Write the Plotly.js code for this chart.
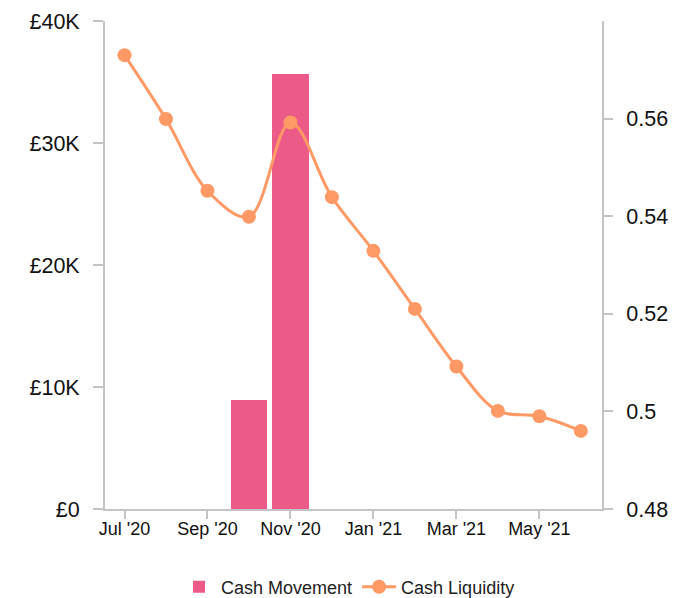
<!DOCTYPE html>
<html>
<head>
<meta charset="utf-8">
<script src="https://cdn.plot.ly/plotly-3.0.1.min.js"></script>
<style>html,body{margin:0;padding:0;background:#fff;}#chart{width:687px;height:598px;}</style>
</head>
<body>
<div id="chart"></div>
<script>
const months = ["Jul '20","Aug '20","Sep '20","Oct '20","Nov '20","Dec '20","Jan '21","Feb '21","Mar '21","Apr '21","May '21","Jun '21"];
const tickMonths = ["Jul '20","Sep '20","Nov '20","Jan '21","Mar '21","May '21"];
const cashMovement = [0, 0, 0, 8930, 35680, 0, 0, 0, 0, 0, 0, 0];
const cashLiquidity = [0.5730, 0.5599, 0.5452, 0.5399, 0.5592, 0.5439, 0.5329, 0.5210, 0.5092, 0.5001, 0.4990, 0.4960];
const leftTicks = [0, 10000, 20000, 30000, 40000];
const leftTickText = ["£0","£10K","£20K","£30K","£40K"];
const rightTicks = [0.48, 0.5, 0.52, 0.54, 0.56];
const rightTickText = ["0.48","0.5","0.52","0.54","0.56"];

const axisCol = '#c4c4c4';
const fontFam = 'Liberation Sans, Arial, Helvetica, sans-serif';

const traces = [
  {
    type: 'bar', name: 'Cash Movement',
    x: months, y: cashMovement,
    xaxis: 'x', yaxis: 'y',
    width: 0.885,
    marker: {color: '#ec5b88'}
  },
  {
    type: 'scatter', mode: 'lines+markers', name: 'Cash Liquidity',
    x: months, y: cashLiquidity,
    xaxis: 'x', yaxis: 'y2',
    line: {color: '#ff9966', width: 3, shape: 'spline', smoothing: 1},
    marker: {color: '#ff9966', size: 14}
  }
];

const layout = {
  width: 687, height: 598,
  margin: {l: 105, r: 85, t: 21, b: 89, autoexpand: false},
  paper_bgcolor: '#fff', plot_bgcolor: '#fff',
  font: {family: fontFam, color: '#111'},
  showlegend: true,
  legend: {orientation: 'h', x: 0.49, xanchor: 'center', y: -0.16, yanchor: 'middle', font: {size: 18, color: '#222'}, traceorder: 'normal', itemwidth: 34},
  bargap: 0,
  xaxis: {
    type: 'category', range: [-0.47, 11.51],
    tickmode: 'array', tickvals: tickMonths, ticktext: tickMonths,
    showline: true, linecolor: axisCol, linewidth: 2,
    ticks: 'outside', ticklen: 8, tickwidth: 2, tickcolor: axisCol,
    showgrid: false, zeroline: false,
    tickfont: {size: 18, color: '#111'}, ticklabelstandoff: -6
  },
  yaxis: {
    range: [0, 40000], tickmode: 'array', tickvals: leftTicks, ticktext: leftTickText,
    showline: true, linecolor: axisCol, linewidth: 2,
    ticks: 'outside', ticklen: 10, tickwidth: 2, tickcolor: axisCol,
    showgrid: false, zeroline: false,
    tickfont: {size: 21.5, color: '#111'}, ticklabelstandoff: 9
  },
  yaxis2: {
    overlaying: 'y', side: 'right', range: [0.48, 0.58],
    tickmode: 'array', tickvals: rightTicks, ticktext: rightTickText,
    showline: true, linecolor: axisCol, linewidth: 2,
    ticks: 'outside', ticklen: 9, tickwidth: 2, tickcolor: axisCol,
    showgrid: false, zeroline: false,
    tickfont: {size: 21.5, color: '#111'}, ticklabelstandoff: 9
  }
};

Plotly.newPlot('chart', traces, layout, {displayModeBar: false, staticPlot: true});
</script>
</body>
</html>
